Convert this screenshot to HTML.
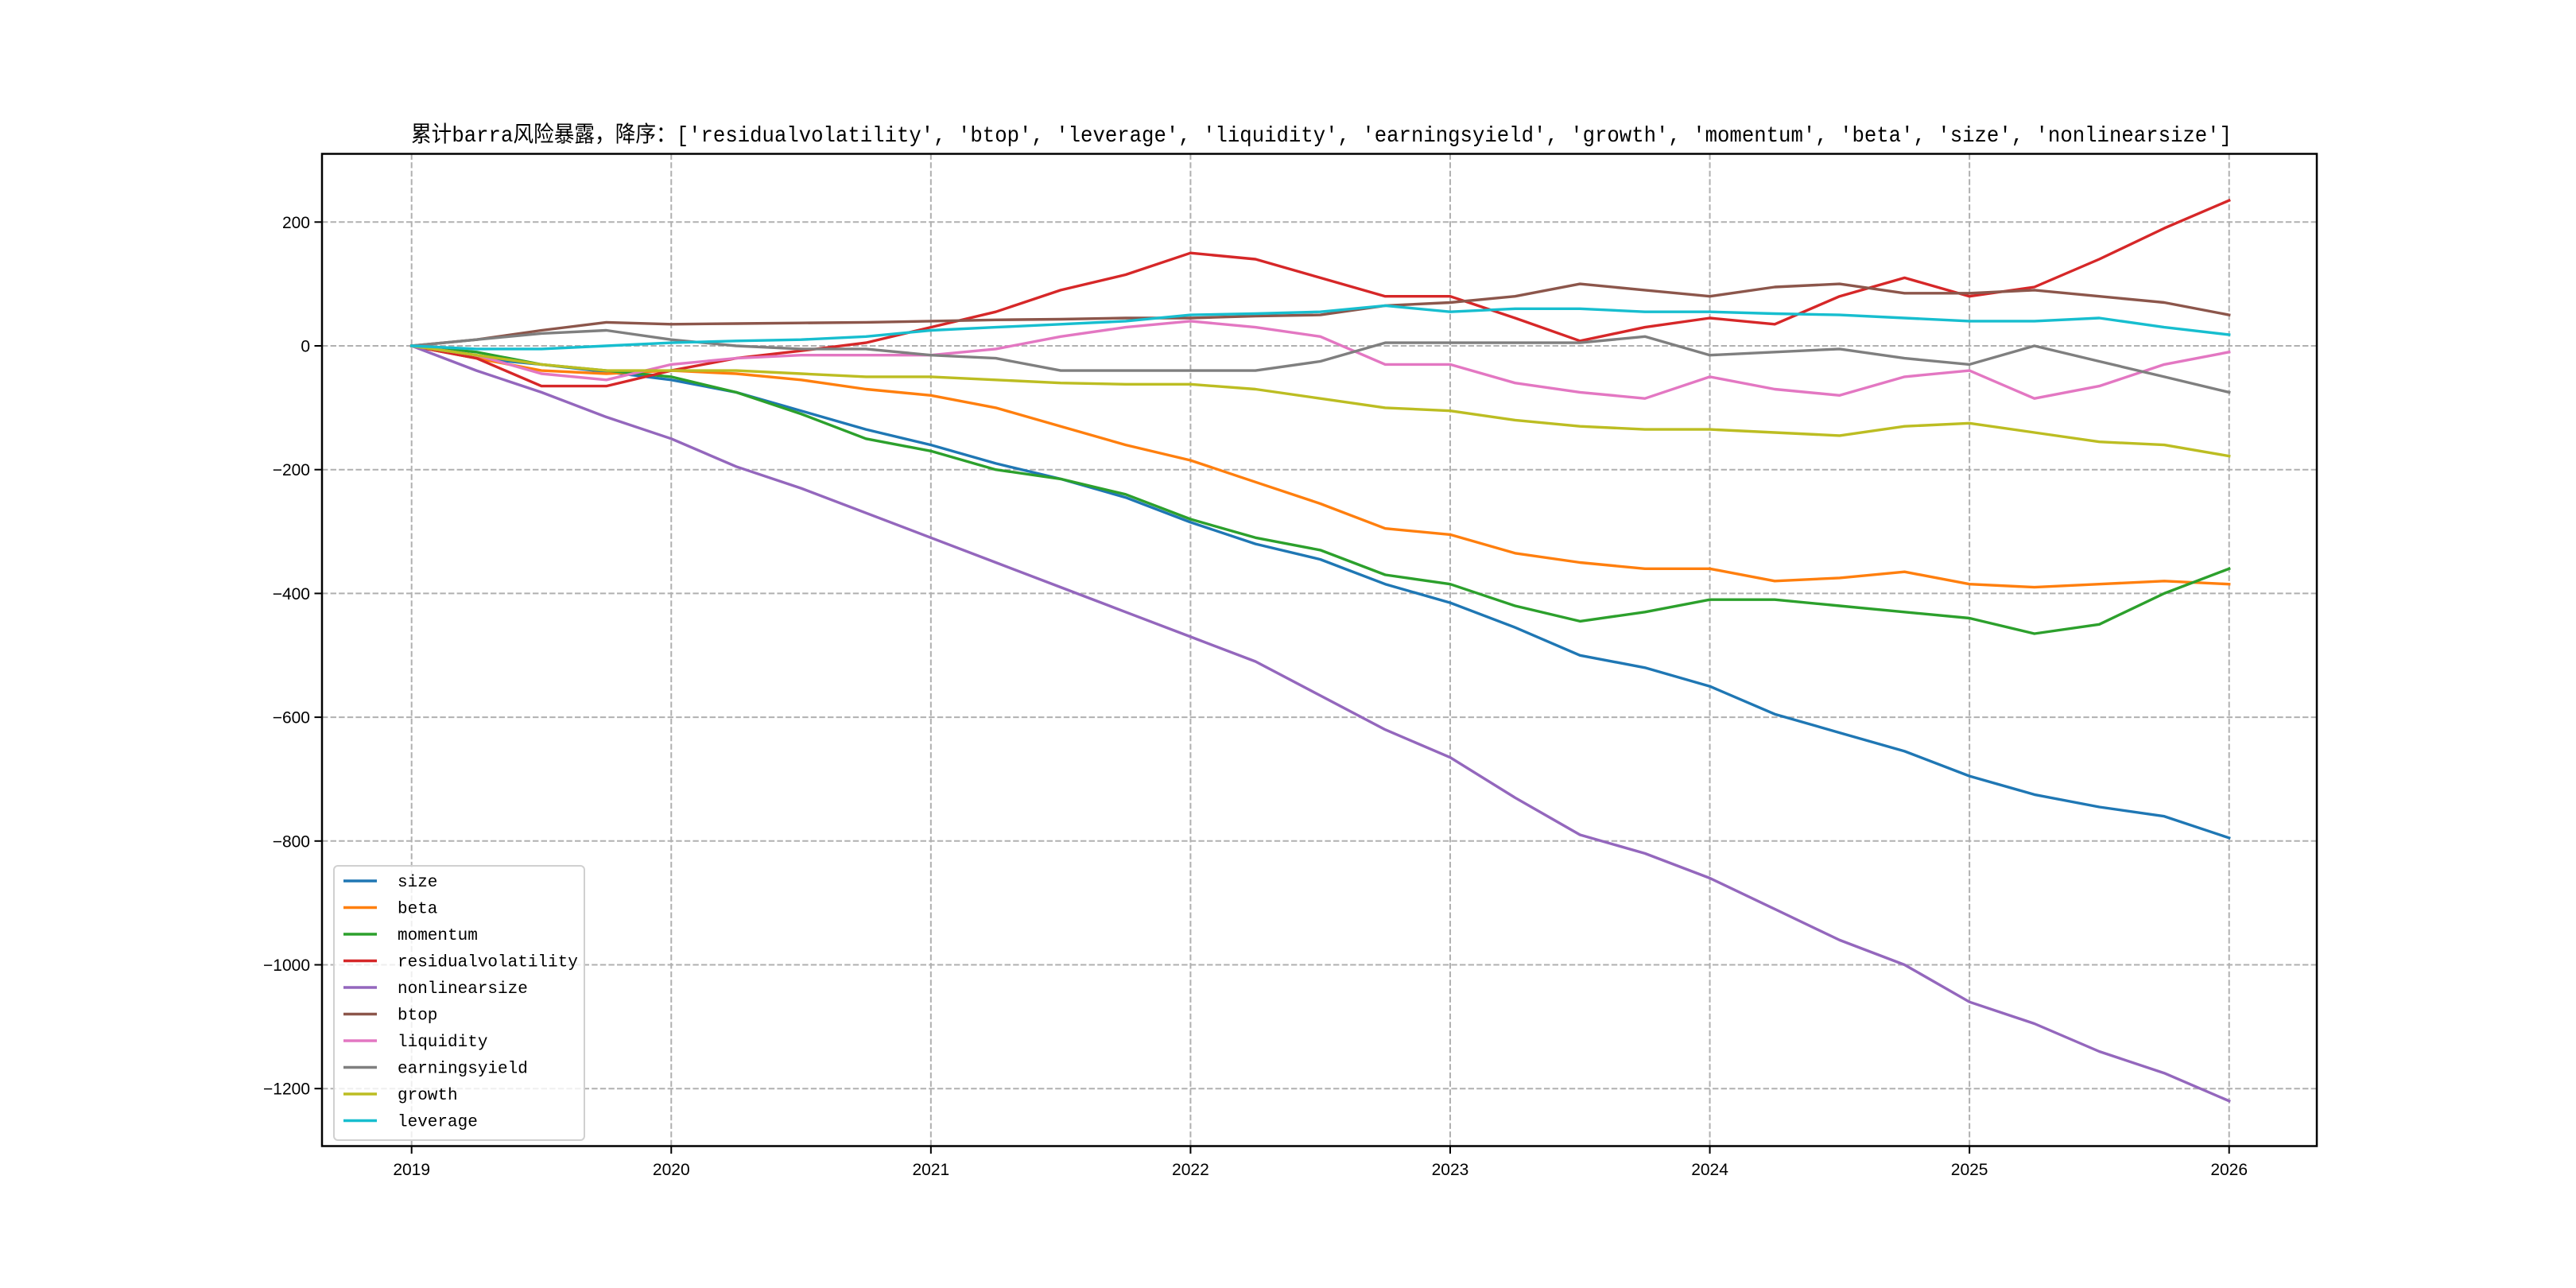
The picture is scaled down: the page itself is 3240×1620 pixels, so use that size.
<!DOCTYPE html>
<html><head><meta charset="utf-8"><style>html,body{margin:0;padding:0;background:#fff}svg{display:block}</style></head>
<body>
<svg id="chart" xmlns="http://www.w3.org/2000/svg" width="3240" height="1620" viewBox="0 0 3240 1620">
<rect width="3240" height="1620" fill="#fff"/>
<g id="grid"></g>
<g id="series"></g>
<rect x="405" y="193.5" width="2509" height="1248" fill="none" stroke="#000" stroke-width="2.5"/>
<g id="ticks"></g>
<text x="1662" y="178" text-anchor="middle" font-size="28" font-family="'Liberation Mono','Noto Sans CJK SC',monospace" textLength="2290" lengthAdjust="spacingAndGlyphs">累计barra风险暴露，降序：['residualvolatility', 'btop', 'leverage', 'liquidity', 'earningsyield', 'growth', 'momentum', 'beta', 'size', 'nonlinearsize']</text>
<g id="legend"></g>
</svg>
<script>
const years = [2019,2019.25,2019.5,2019.75,2020,2020.25,2020.5,2020.75,2021,2021.25,2021.5,2021.75,2022,2022.25,2022.5,2022.75,2023,2023.25,2023.5,2023.75,2024,2024.25,2024.5,2024.75,2025,2025.25,2025.5,2025.75,2026];
const seriesNames = ['size','beta','momentum','residualvolatility','nonlinearsize','btop','liquidity','earningsyield','growth','leverage'];
const sizeVals = [0,-20,-30,-42,-55,-75,-105,-135,-160,-190,-215,-245,-285,-320,-345,-385,-415,-455,-500,-520,-550,-595,-625,-655,-695,-725,-745,-760,-795];
const betaVals = [0,-20,-40,-45,-40,-45,-55,-70,-80,-100,-130,-160,-185,-220,-255,-295,-305,-335,-350,-360,-360,-380,-375,-365,-385,-390,-385,-380,-385];
const momentumVals = [0,-10,-30,-40,-50,-75,-110,-150,-170,-200,-215,-240,-280,-310,-330,-370,-385,-420,-445,-430,-410,-410,-420,-430,-440,-465,-450,-400,-360];
const resvolVals = [0,-20,-65,-65,-40,-20,-8,5,30,55,90,115,150,140,110,80,80,45,8,30,45,35,80,110,80,95,140,190,235];
const nlsizeVals = [0,-40,-75,-115,-150,-195,-230,-270,-310,-350,-390,-430,-470,-510,-565,-620,-665,-730,-790,-820,-860,-910,-960,-1000,-1060,-1095,-1140,-1175,-1220];
const btopVals = [0,10,25,38,35,36,37,38,40,42,43,45,45,48,50,65,70,80,100,90,80,95,100,85,85,90,80,70,50];
const liquidityVals = [0,-15,-45,-55,-30,-20,-15,-15,-15,-5,15,30,40,30,15,-30,-30,-60,-75,-85,-50,-70,-80,-50,-40,-85,-65,-30,-10];
const eyVals = [0,10,20,25,10,0,-5,-5,-15,-20,-40,-40,-40,-40,-25,5,5,5,5,15,-15,-10,-5,-20,-30,0,-25,-50,-75];
const growthVals = [0,-15,-30,-40,-40,-40,-45,-50,-50,-55,-60,-62,-62,-70,-85,-100,-105,-120,-130,-135,-135,-140,-145,-130,-125,-140,-155,-160,-178];
const leverageVals = [0,-5,-5,0,5,8,10,15,25,30,35,40,50,52,55,65,55,60,60,55,55,52,50,45,40,40,45,30,18];
const xTicks = [2019,2020,2021,2022,2023,2024,2025,2026];
const yTicks = [200,0,-200,-400,-600,-800,-1000,-1200];

const allVals = [sizeVals,betaVals,momentumVals,resvolVals,nlsizeVals,btopVals,liquidityVals,eyVals,growthVals,leverageVals];
const colors = ['#1f77b4','#ff7f0e','#2ca02c','#d62728','#9467bd','#8c564b','#e377c2','#7f7f7f','#bcbd22','#17becf'];
const NS='http://www.w3.org/2000/svg';
const xs = v => 517.7 + (v-2019)*(2803.7-517.7)/7;
const ys = v => 435 - v*0.7785;
function mk(tag, attrs, parent){const e=document.createElementNS(NS,tag);for(const k in attrs)e.setAttribute(k,attrs[k]);parent.appendChild(e);return e;}
const grid=document.getElementById('grid'), ticks=document.getElementById('ticks'), ser=document.getElementById('series'), leg=document.getElementById('legend');
const font="'Liberation Sans','Noto Sans CJK SC',sans-serif";
xTicks.forEach(t=>{
  const l=mk('line',{x1:xs(t),x2:xs(t),y1:193.5,y2:1441.5,stroke:'#b0b0b0','stroke-width':2,'stroke-dasharray':'7.4,3.2'},grid);
  
  
  const tk=mk('line',{x1:xs(t),x2:xs(t),y1:1441.5,y2:1451,stroke:'#000','stroke-width':2},ticks);
  
  
  const tx=mk('text',{x:xs(t),y:1478,'text-anchor':'middle','font-size':21,'font-family':font},ticks);
  tx.textContent=t;
  
  
});
yTicks.forEach(t=>{
  const l=mk('line',{x1:405,x2:2914,y1:ys(t),y2:ys(t),stroke:'#b0b0b0','stroke-width':2,'stroke-dasharray':'7.4,3.2'},grid);
  
  
  const tk=mk('line',{x1:395.5,x2:405,y1:ys(t),y2:ys(t),stroke:'#000','stroke-width':2},ticks);
  
  
  const tx=mk('text',{x:390,y:ys(t)+7.5,'text-anchor':'end','font-size':21,'font-family':font},ticks);
  tx.textContent=t<0?'\u2212'+(-t):String(t);
  
  
});
allVals.forEach((vals,i)=>{
  const d=vals.map((v,j)=>(j?'L':'M')+xs(years[j]).toFixed(1)+','+ys(v).toFixed(1)).join(' ');
  const p=mk('path',{d:d,fill:'none',stroke:colors[i],'stroke-width':3.4,'stroke-linejoin':'round','stroke-linecap':'square'},ser);
  
  
});
const box=mk('rect',{x:420,y:1089,width:315,height:345,rx:5,fill:'#fff','fill-opacity':0.8,stroke:'#d0d0d0','stroke-width':2},leg);


seriesNames.forEach((n,i)=>{
  const y=1108+i*33.5;
  const g=mk('g',{},leg);
  
  
  mk('line',{x1:432,x2:474,y1:y,y2:y,stroke:colors[i],'stroke-width':3.4},g);
  const t=mk('text',{x:500,y:y+7,'font-size':21,'font-family':"'Liberation Mono',monospace"},g);
  t.textContent=n;
});
</script>
</body></html>
